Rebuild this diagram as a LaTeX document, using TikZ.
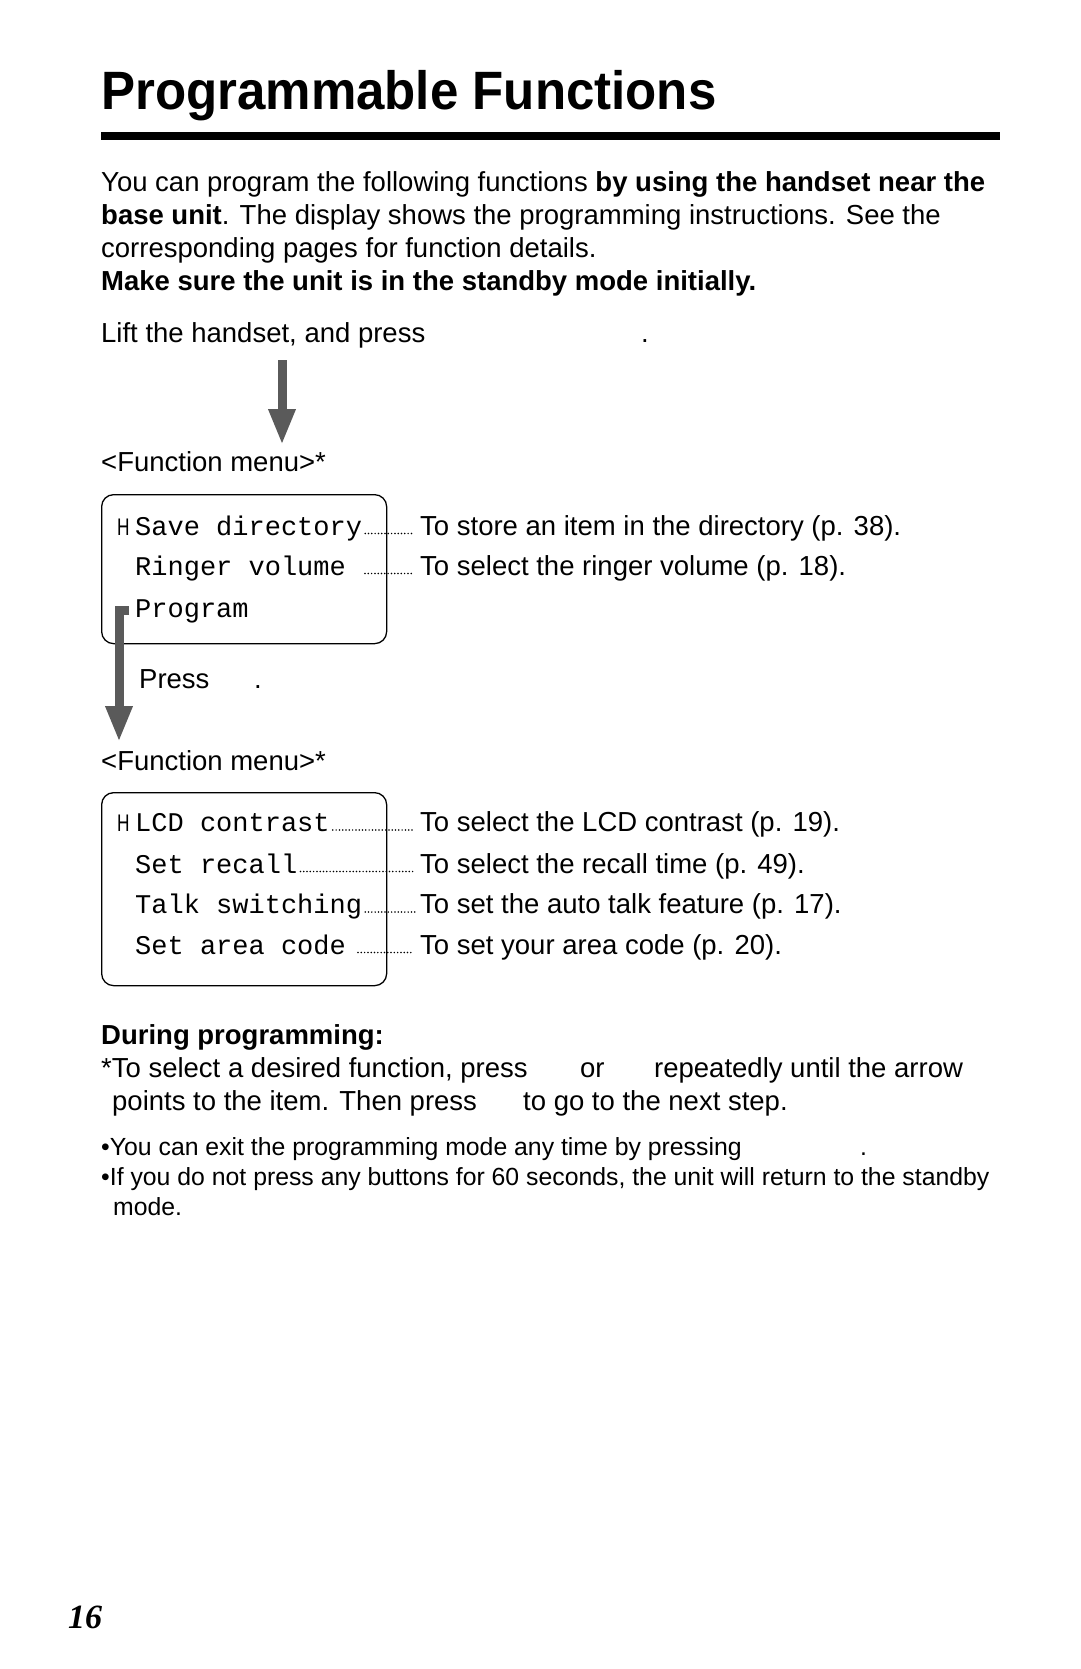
\documentclass[tikz,border=0pt]{standalone}
\usepackage{fontspec}
\setmainfont{Liberation Sans}
\newfontfamily\lcdfont{Liberation Mono}
\newfontfamily\pagefont{Liberation Serif}
\newfontfamily\titlefont[FakeStretch=0.945]{Liberation Sans}
\newfontfamily\cursorfont[FakeStretch=0.72]{Liberation Sans}
\usetikzlibrary{arrows.meta}
\definecolor{arrowgray}{HTML}{5A5A5A}
\begin{document}
\begin{tikzpicture}[x=1pt,y=-1pt,
  txt/.style={anchor=base west, inner sep=0pt, font=\fontsize{27.5}{33}\selectfont},
  boldtxt/.style={anchor=base west, inner sep=0pt, font=\bfseries\fontsize{27.5}{33}\selectfont},
  small/.style={anchor=base west, inner sep=0pt, font=\fontsize{24.8}{30}\selectfont},
  lcd/.style={anchor=base west, inner sep=0pt, font=\lcdfont\fontsize{27}{33}\selectfont},
  cursor/.style={anchor=base west, inner sep=0pt, font=\cursorfont\fontsize{24}{24}\selectfont},
  lcdbox/.style={draw, line width=1.3pt, rounded corners=12pt, anchor=north west, inner sep=0pt},
  leader/.style={line width=1.7pt, dash pattern=on 0pt off 3.3pt, line cap=round},
  bigarrow/.style={draw=arrowgray, line width=9pt, -{Triangle[width=25pt,length=36pt]}}
]
\useasboundingbox (0,0) rectangle (1080,1669);

% title and rule
\node[anchor=base west, inner sep=0pt, font=\titlefont\bfseries\fontsize{54}{54}\selectfont] (title) at (101,110) {Programmable Functions};
\draw[line width=7.5pt] (101,136) -- (1000,136);

% intro paragraph
\node[txt] (p1) at (101,192) {You can program the following functions \textbf{by using the handset near the}};
\node[txt] (p2) at (101,225) {\textbf{base unit}. The display shows the programming instructions. See the};
\node[txt] (p3) at (101,258) {corresponding pages for function details.};
\node[boldtxt] (p4) at (101,291) {Make sure the unit is in the standby mode initially.};

\node[txt] (lift) at (101,342) {Lift the handset, and press};
\node[txt] (liftdot) at (641,342) {.};

\coordinate (a1top) at (282,360);
\coordinate (a1tip) at (282,445);
\draw[bigarrow] (a1top) -- (a1tip);

\node[txt] (fm1) at (101,471) {<Function menu>*};

% first LCD box
\node[lcdbox, minimum width=285pt, minimum height=149pt] (box1) at (101,494) {};
\node[cursor] (c1) at (117,535) {H};
\node[lcd] (m1) at (135,535) {Save directory};
\node[lcd] (m2) at (135,575) {Ringer volume};
\node[lcd] (m3) at (135,617) {Program};
\node[txt] (r1) at (420,535) {To store an item in the directory (p. 38).};
\node[txt] (r2) at (420,575) {To select the ringer volume (p. 18).};
\draw[leader] ([xshift=3pt,yshift=1.5pt]m1.base east) -- ([xshift=-7pt,yshift=1.5pt]r1.base west);
\draw[leader] ([xshift=19pt,yshift=1.5pt]m2.base east) -- ([xshift=-7pt,yshift=1.5pt]r2.base west);

\coordinate (a2tick) at (129,610);
\coordinate (a2corner) at (119,610);
\coordinate (a2tip) at (119,742);
\draw[bigarrow] (a2tick) -- (a2corner) -- (a2tip);

\node[txt] (press) at (139,688) {Press};
\node[txt] (pressdot) at (254,688) {.};

\node[txt] (fm2) at (101,770) {<Function menu>*};

% second LCD box
\node[lcdbox, minimum width=285pt, minimum height=193pt] (box2) at (101,792) {};
\node[cursor] (c2) at (117,831.5) {H};
\node[lcd] (n1) at (135,831.5) {LCD contrast};
\node[lcd] (n2) at (135,873) {Set recall};
\node[lcd] (n3) at (135,913.5) {Talk switching};
\node[lcd] (n4) at (135,954) {Set area code};
\node[txt] (s1) at (420,831.5) {To select the LCD contrast (p. 19).};
\node[txt] (s2) at (420,873) {To select the recall time (p. 49).};
\node[txt] (s3) at (420,913.5) {To set the auto talk feature (p. 17).};
\node[txt] (s4) at (420,954) {To set your area code (p. 20).};
\draw[leader] ([xshift=3pt,yshift=1.5pt]n1.base east) -- ([xshift=-7pt,yshift=1.5pt]s1.base west);
\draw[leader] ([xshift=3pt,yshift=1.5pt]n2.base east) -- ([xshift=-7pt,yshift=1.5pt]s2.base west);
\draw[leader] ([xshift=3pt,yshift=1.5pt]n3.base east) -- ([xshift=-5pt,yshift=1.5pt]s3.base west);
\draw[leader] ([xshift=12pt,yshift=1.5pt]n4.base east) -- ([xshift=-7pt,yshift=1.5pt]s4.base west);

% during programming
\node[boldtxt] (during) at (101,1044) {During programming:};
\node[txt] (sel1) at (101,1077) {*To select a desired function, press};
\node[txt] (sel2) at (580,1077) {or};
\node[txt] (sel3) at (654,1077) {repeatedly until the arrow};
\node[txt] (pts1) at (112,1110) {points to the item. Then press};
\node[txt] (pts2) at (523,1110) {to go to the next step.};

\node[small] (b1) at (101,1155) {\textbullet You can exit the programming mode any time by pressing};
\node[small] (b1dot) at (860,1155) {.};
\node[small] (b2) at (101,1185) {\textbullet If you do not press any buttons for 60 seconds, the unit will return to the standby};
\node[small] (b2b) at (113,1215) {mode.};

\node[anchor=base west, inner sep=0pt, font=\pagefont\bfseries\itshape\fontsize{34}{34}\selectfont] (pageno) at (68,1628) {16};
\end{tikzpicture}
\end{document}
